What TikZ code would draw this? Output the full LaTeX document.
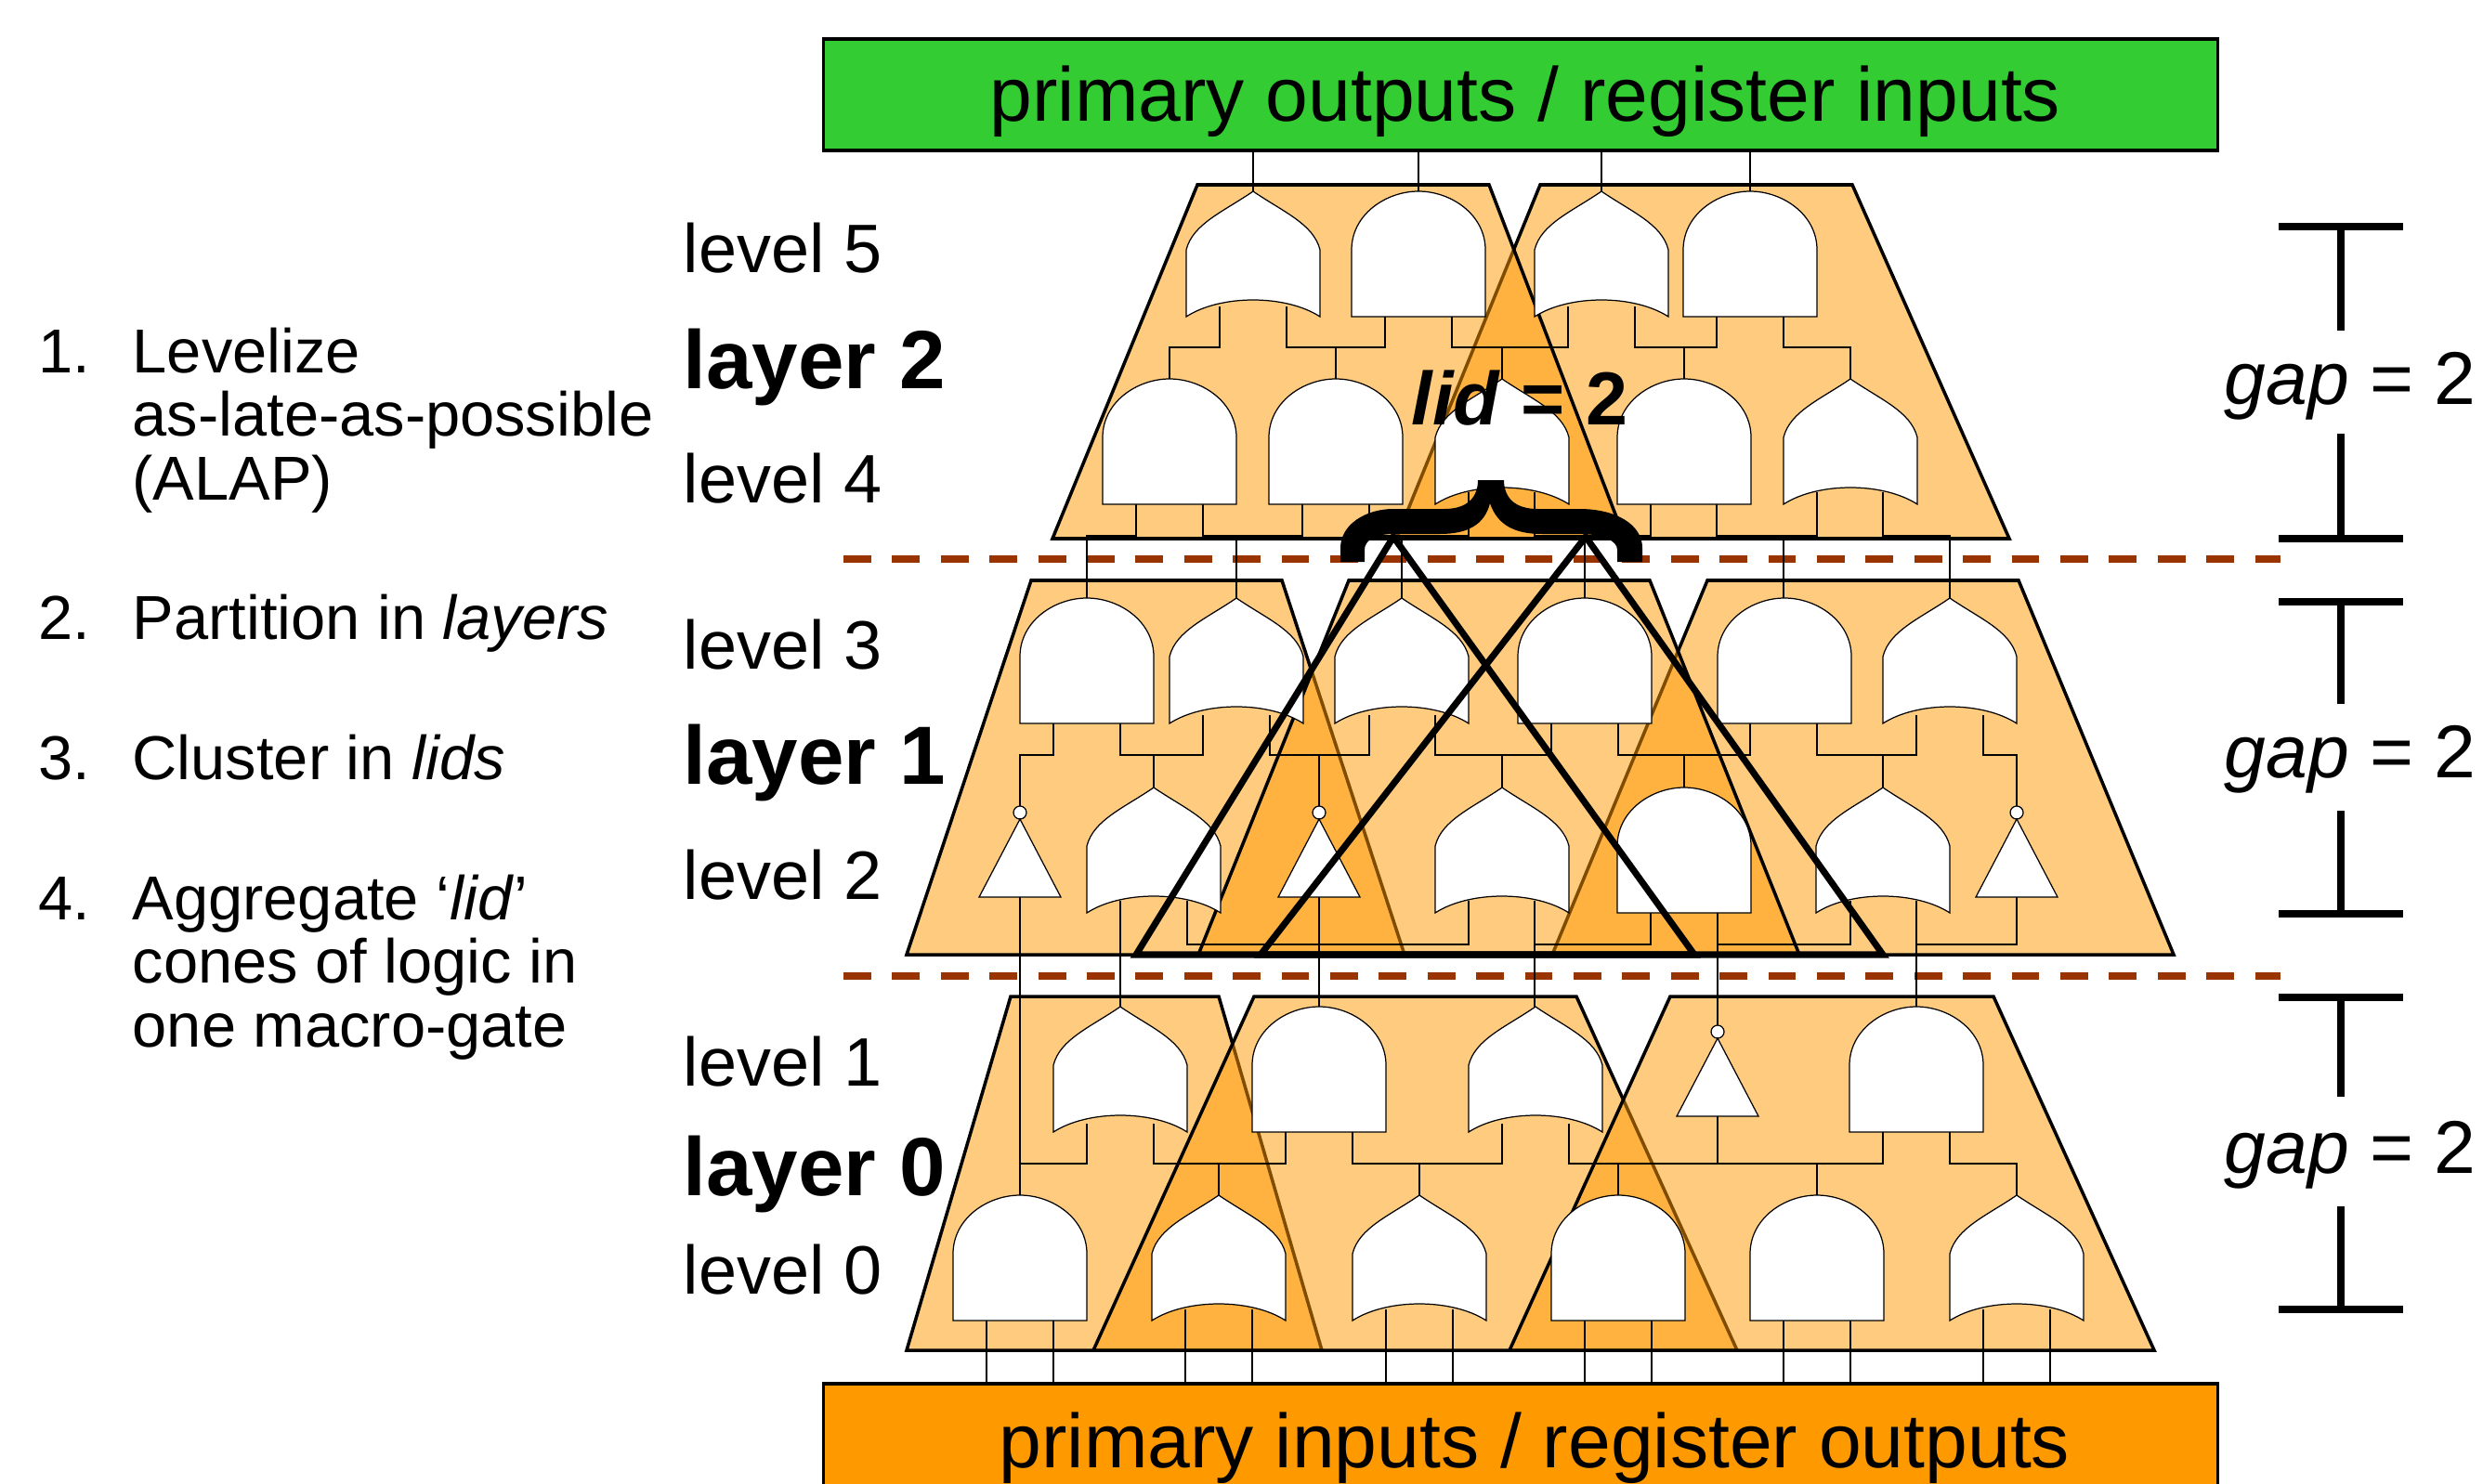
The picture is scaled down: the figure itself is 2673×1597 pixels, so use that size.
\documentclass[tikz,border=0pt]{standalone}
\usepackage{fontspec}
\setmainfont{Liberation Sans}
\definecolor{lidorange}{HTML}{FF9900}
\definecolor{outgreen}{HTML}{33CC33}
\definecolor{cutbrown}{HTML}{993300}
\tikzset{
    gate/.style={draw=black,fill=white,line width=0.35pt},
    wire/.style={draw=black,line width=0.35pt},
    cone/.style={draw=black,fill=lidorange,fill opacity=0.5,line width=1pt},
    liftri/.style={draw=black,line width=2pt,line join=miter},
    iobox/.style={draw=black,line width=1pt,minimum width=15cm,inner sep=0pt},
    cutline/.style={draw=cutbrown,line width=2.3pt,dash pattern=on 8.5pt off 6.4pt},
    gapbar/.style={draw=black,line width=2.3pt},
    bigtxt/.style={anchor=base west,inner sep=0pt,font=\fontsize{23.4}{28}\selectfont},
    steptxt/.style={anchor=base west,inner sep=0pt,font=\fontsize{19}{23}\selectfont},
    leveltxt/.style={anchor=base west,inner sep=0pt,font=\fontsize{21}{25}\selectfont},
    layertxt/.style={anchor=base west,inner sep=0pt,font=\fontsize{25.3}{30}\selectfont\bfseries},
    gaptxt/.style={anchor=base west,inner sep=0pt,font=\fontsize{22.9}{27}\selectfont},
}
\newcommand{\andgate}[2]{\draw[gate,shift={(#1,#2)}] (-72,135) -- (-72,63) .. controls (-72,25) and (-35,0) .. (0,0) .. controls (35,0) and (72,25) .. (72,63) -- (72,135) -- cycle;}
\newcommand{\orgate}[2]{\draw[gate,shift={(#1,#2)}] (-72,135) -- (-72,63) .. controls (-65,35) and (-32,22) .. (0,0) .. controls (32,22) and (65,35) .. (72,63) -- (72,135) .. controls (35,111) and (-35,111) .. (-72,135) -- cycle;}
\newcommand{\notgate}[2]{\draw[gate,shift={(#1,#2)}] (-44,84) -- (0,0) -- (44,84) -- cycle (0,-7) circle [radius=7];}
\begin{document}
\begin{tikzpicture}[x=0.01cm,y=-0.01cm]
    \useasboundingbox (0,0) rectangle (2673,1597);
    \clip (0,0) rectangle (2673,1597);

    % io boxes
    \node[iobox,fill=outgreen,minimum height=1.2cm] (outbox) at (1637,102) {};
    \node[iobox,fill=lidorange,minimum height=1.3cm] (inbox) at (1637,1555) {};
    \node[bigtxt] (outtxt) at (1065,130) {primary outputs / register inputs};
    \node[bigtxt] (intxt) at (1075,1580) {primary inputs / register outputs};

    % layer cuts
    \draw[cutline] (908,602) -- (2455,602);
    \draw[cutline] (908,1051) -- (2455,1051);

    % layer 2
    \draw[cone] (1658,199) -- (1994,199) -- (2163,580) -- (1503,580) -- cycle;
    \draw[cone] (1289,199) -- (1603,199) -- (1749,580) -- (1133,580) -- cycle;
    % layer 1
    \draw[cone] (1110,625) -- (1380,625) -- (1512,1028) -- (976,1028) -- cycle;
    \draw[cone] (1838,625) -- (2173,625) -- (2340,1028) -- (1671,1028) -- cycle;
    \draw[cone] (1452,625) -- (1776,625) -- (1937,1028) -- (1290,1028) -- cycle;
    % layer 0
    \draw[cone] (1088,1073) -- (1312,1073) -- (1423,1454) -- (976,1454) -- cycle;
    \draw[cone] (1350,1073) -- (1697,1073) -- (1870,1454) -- (1177,1454) -- cycle;
    \draw[cone] (1798,1073) -- (2146,1073) -- (2319,1454) -- (1625,1454) -- cycle;

    % wires, the gates are drawn over their ends
    \foreach \x in {1349,1527,1724,1884}
        \draw[wire] (\x,162) -- (\x,220);
    \draw[wire] (1313,330) -- (1313,374) -- (1259,374) -- (1259,420);
    \draw[wire] (1385,330) -- (1385,374) -- (1491,374) -- (1491,330) (1438,374) -- (1438,420);
    \draw[wire] (1563,330) -- (1563,374) -- (1688,374) -- (1688,330) (1617,374) -- (1617,420);
    \draw[wire] (1760,330) -- (1760,374) -- (1848,374) -- (1848,330) (1813,374) -- (1813,420);
    \draw[wire] (1920,330) -- (1920,374) -- (1992,374) -- (1992,420);

    \draw[wire] (1223,530) -- (1223,577) -- (1170,577) -- (1170,660);
    \draw[wire] (1295,530) -- (1295,577) -- (1402,577) -- (1402,530) (1331,577) -- (1331,660);
    \draw[wire] (1474,530) -- (1474,577) -- (1581,577) -- (1581,530) (1509,577) -- (1509,660);
    \draw[wire] (1652,530) -- (1652,577) -- (1777,577) -- (1777,530) (1706,577) -- (1706,660);
    \draw[wire] (1848,530) -- (1848,577) -- (1956,577) -- (1956,530) (1920,577) -- (1920,660);
    \draw[wire] (2027,530) -- (2027,577) -- (2099,577) -- (2099,660);

    \draw[wire] (1134,770) -- (1134,813) -- (1098,813) -- (1098,875);
    \draw[wire] (1206,770) -- (1206,813) -- (1295,813) -- (1295,770) (1242,813) -- (1242,860);
    \draw[wire] (1367,770) -- (1367,813) -- (1474,813) -- (1474,770) (1420,813) -- (1420,875);
    \draw[wire] (1545,770) -- (1545,813) -- (1670,813) -- (1670,770) (1617,813) -- (1617,860);
    \draw[wire] (1742,770) -- (1742,813) -- (1884,813) -- (1884,770) (1813,813) -- (1813,860);
    \draw[wire] (1956,770) -- (1956,813) -- (2063,813) -- (2063,770) (2027,813) -- (2027,860);
    \draw[wire] (2135,770) -- (2135,813) -- (2171,813) -- (2171,875);

    \draw[wire] (1098,960) -- (1098,1300);
    \draw[wire] (1206,970) -- (1206,1100);
    \draw[wire] (1278,970) -- (1278,1017) -- (1581,1017) -- (1581,970) (1420,960) -- (1420,1100);
    \draw[wire] (1652,970) -- (1652,1100) (1652,1017) -- (1777,1017) -- (1777,970);
    \draw[wire] (1849,970) -- (1849,1111) (1849,1017) -- (1992,1017) -- (1992,970);
    \draw[wire] (2063,970) -- (2063,1100) (2063,1017) -- (2171,1017) -- (2171,960);

    \draw[wire] (1098,1253) -- (1170,1253) -- (1170,1210);
    \draw[wire] (1242,1210) -- (1242,1253) -- (1384,1253) -- (1384,1210) (1312,1253) -- (1312,1300);
    \draw[wire] (1456,1210) -- (1456,1253) -- (1617,1253) -- (1617,1210) (1528,1253) -- (1528,1300);
    \draw[wire] (1689,1210) -- (1689,1253) -- (2027,1253) -- (2027,1210) (1849,1195) -- (1849,1253);
    \draw[wire] (1742,1253) -- (1742,1300) (1956,1253) -- (1956,1300);
    \draw[wire] (2099,1210) -- (2099,1253) -- (2171,1253) -- (2171,1300);

    \foreach \x in {1062,1134,1276,1348,1492,1564,1706,1778,1920,1992,2135,2207}
        \draw[wire] (\x,1410) -- (\x,1490);

    % gates
    \foreach \x in {1349,1724} \orgate{\x}{206};
    \foreach \x in {1527,1884} \andgate{\x}{206};
    \foreach \x in {1259,1438,1813} \andgate{\x}{408};
    \foreach \x in {1617,1992} \orgate{\x}{408};
    \foreach \x in {1170,1706,1921} \andgate{\x}{644};
    \foreach \x in {1331,1509,2099} \orgate{\x}{644};
    \foreach \x in {1242,1617,2027} \orgate{\x}{848};
    \andgate{1813}{848};
    \foreach \x in {1098,1420,2171} \notgate{\x}{882};
    \foreach \x in {1206,1653} \orgate{\x}{1084};
    \foreach \x in {1420,2063} \andgate{\x}{1084};
    \notgate{1849}{1118};
    \foreach \x in {1098,1742,1956} \andgate{\x}{1287};
    \foreach \x in {1312,1528,2171} \orgate{\x}{1287};

    % lid cones of logic
    \draw[liftri] (1500,578) -- (1824,1028) -- (1223,1028) -- cycle;
    \draw[liftri] (1707,578) -- (2027,1028) -- (1357,1028) -- cycle;

    % brace
    \fill (1443,605) -- (1443,590) .. controls (1443,565) and (1470,548) .. (1500,548) -- (1555,548)
        .. controls (1580,548) and (1591,535) .. (1591,517) -- (1619,517)
        .. controls (1619,535) and (1630,548) .. (1655,548) -- (1700,548)
        .. controls (1740,548) and (1768,565) .. (1768,590) -- (1768,605) -- (1741,605) -- (1741,592)
        .. controls (1741,582) and (1725,575) .. (1700,575) -- (1660,575)
        .. controls (1630,575) and (1612,565) .. (1604,542)
        .. controls (1598,565) and (1580,575) .. (1550,575) -- (1500,575)
        .. controls (1480,575) and (1469,582) .. (1469,592) -- (1469,605) -- cycle;
    \node[gaptxt,font=\fontsize{23}{27}\selectfont\bfseries] (lidtxt) at (1519,457) {\textit{lid} = 2};

    % level and layer names
    \node[leveltxt] (lvlfive) at (735,294) {level 5};
    \node[layertxt] (lyrtwo) at (735,418) {layer 2};
    \node[leveltxt] (lvlfour) at (735,541) {level 4};
    \node[leveltxt] (lvlthree) at (735,720) {level 3};
    \node[layertxt] (lyrone) at (735,844) {layer 1};
    \node[leveltxt] (lvltwo) at (735,968) {level 2};
    \node[leveltxt] (lvlone) at (735,1169) {level 1};
    \node[layertxt] (lyrzero) at (735,1287) {layer 0};
    \node[leveltxt] (lvlzero) at (735,1393) {level 0};

    % steps
    \node[steptxt] (numone) at (41,401) {1.};
    \node[steptxt] (stepone) at (142,401) {Levelize};
    \node[steptxt] (steponeb) at (142,469) {as-late-as-possible};
    \node[steptxt] (steponec) at (142,538) {(ALAP)};
    \node[steptxt] (numtwo) at (41,688) {2.};
    \node[steptxt] (steptwo) at (142,688) {Partition in \textit{layers}};
    \node[steptxt] (numthree) at (41,839) {3.};
    \node[steptxt] (stepthree) at (142,839) {Cluster in \textit{lids}};
    \node[steptxt] (numfour) at (41,990) {4.};
    \node[steptxt] (stepfour) at (142,990) {Aggregate ‘\textit{lid}’};
    \node[steptxt] (stepfourb) at (142,1058) {cones of logic in};
    \node[steptxt] (stepfourc) at (142,1127) {one macro-gate};

    % gap marks
    \foreach \ta/\tb/\bb/\ba/\t in {244/356/467/580/435,648/758/873/984/837,1074/1181/1299/1410/1263} {
        \draw[gapbar] (2453,\ta) -- (2587,\ta) (2520,\ta) -- (2520,\tb);
        \draw[gapbar] (2520,\bb) -- (2520,\ba) (2453,\ba) -- (2587,\ba);
        \node[gaptxt] at (2394,\t) {\textit{gap} = 2};
    }
\end{tikzpicture}
\end{document}
